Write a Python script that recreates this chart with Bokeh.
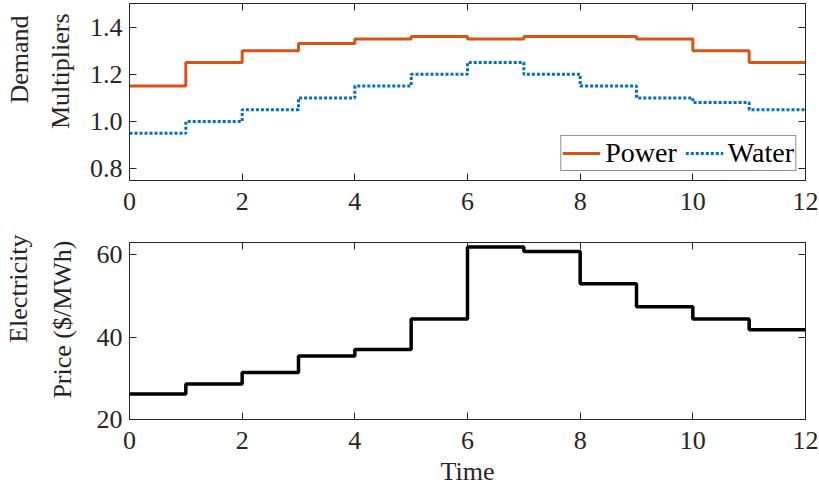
from bokeh.plotting import figure
from bokeh.layouts import column
from bokeh.models import (ColumnDataSource, LinearAxis, FixedTicker, Range1d,
                          Legend, LegendItem, PrintfTickFormatter, Title)
from bokeh.embed import file_html
from bokeh.resources import INLINE

# ---- data ----
time_steps = list(range(13))
power = [1.15, 1.25, 1.30, 1.33, 1.35, 1.36, 1.35, 1.36, 1.36, 1.35, 1.30, 1.25]
water = [0.95, 1.00, 1.05, 1.10, 1.15, 1.20, 1.25, 1.20, 1.15, 1.10, 1.08, 1.05]
price = [26.2, 28.6, 31.4, 35.4, 37.0, 44.4, 61.9, 60.8, 53.0, 47.4, 44.4, 41.8]
x_ticks = [0, 2, 4, 6, 8, 10, 12]
top_y_ticks = [0.8, 1.0, 1.2, 1.4]
bottom_y_ticks = [20, 40, 60]
top_y_range = (0.75, 1.5)
bottom_y_range = (20, 63)
top_ylabel = ["Demand", "Multipliers"]
bottom_ylabel = ["Electricity", "Price ($/MWh)"]
xlabel = "Time"

FONT = "Liberation Serif"
TXT = "#262626"
TICK_FS = "26px"
LBL_FS = "26px"
LEG_FS = "28px"

src = ColumnDataSource(dict(
    t=time_steps,
    power=power + [power[-1]],
    water=water + [water[-1]],
    price=price + [price[-1]],
))


def style_axis(ax, ticks, show_labels=True, fmt=None):
    ax.ticker = FixedTicker(ticks=ticks)
    ax.minor_tick_line_color = None
    ax.major_tick_in = 7
    ax.major_tick_out = 0
    ax.major_tick_line_color = TXT
    ax.axis_line_color = TXT
    ax.axis_line_width = 1
    ax.major_label_text_font = FONT
    ax.axis_label_text_font = FONT
    ax.axis_label_text_font_style = "normal"
    ax.axis_label_text_color = TXT
    ax.axis_label_text_font_size = LBL_FS
    if fmt is not None:
        ax.formatter = fmt
    if show_labels:
        ax.major_label_text_font_size = TICK_FS
        ax.major_label_text_color = TXT
    else:
        ax.major_label_text_font_size = "1px"
        ax.major_label_text_color = None
        ax.major_label_standoff = 0


def make_fig(yr, yticks, top_b, bottom_b, yfmt=None):
    p = figure(frame_width=676, frame_height=177,
               x_range=Range1d(0, 12), y_range=Range1d(*yr),
               output_backend="svg", toolbar_location=None,
               min_border_left=129, min_border_right=14,
               min_border_top=top_b, min_border_bottom=bottom_b)
    p.grid.visible = False
    p.outline_line_color = TXT
    p.outline_line_width = 1
    p.background_fill_color = "white"
    p.border_fill_color = "white"
    xb = p.below[0]
    yl = p.left[0]
    style_axis(xb, x_ticks)
    style_axis(yl, yticks, fmt=yfmt)
    xb.major_label_standoff = 12
    yl.major_label_standoff = 7
    ax_top = LinearAxis()
    style_axis(ax_top, x_ticks, show_labels=False)
    p.add_layout(ax_top, "above")
    ax_right = LinearAxis()
    style_axis(ax_right, yticks, show_labels=False)
    p.add_layout(ax_right, "right")
    return p, xb, yl


def add_ylabel(p, lines, offsets, standoffs):
    # inner line first (closest to the axis), then the outer line
    for txt, off, so in zip(reversed(lines), reversed(offsets), reversed(standoffs)):
        p.add_layout(Title(text=txt, align="right", offset=off,
                           text_font=FONT, text_font_size=LBL_FS,
                           text_font_style="normal", text_color=TXT,
                           standoff=so), "left")


# ---- top panel ----
p1, xb1, yl1 = make_fig(top_y_range, top_y_ticks, 3, 40, PrintfTickFormatter(format="%.1f"))
r_pow = p1.step(x="t", y="power", source=src, mode="after",
                line_color="#D95319", line_width=3)
r_wat = p1.step(x="t", y="water", source=src, mode="after",
                line_color="#0072BD", line_width=3, line_dash="3 2")
add_ylabel(p1, top_ylabel, [12, 10], [-4, 24])

leg = Legend(items=[LegendItem(label="Power", renderers=[r_pow]),
                    LegendItem(label="Water", renderers=[r_wat])],
             location="bottom_right", orientation="horizontal")
leg.margin = 9
leg.padding = 1
leg.spacing = 8
leg.glyph_width = 38
leg.glyph_height = 20
leg.label_standoff = 5
leg.label_text_font = FONT
leg.label_text_font_size = LEG_FS
leg.label_text_color = "black"
leg.border_line_color = TXT
leg.border_line_width = 1
leg.background_fill_color = "white"
leg.background_fill_alpha = 1
p1.add_layout(leg)

# ---- bottom panel ----
p2, xb2, yl2 = make_fig(bottom_y_range, bottom_y_ticks, 22, 68)
p2.step(x="t", y="price", source=src, mode="after",
        line_color="black", line_width=3.5)
add_ylabel(p2, bottom_ylabel, [-8, -2], [-8, 34])
xb2.axis_label = xlabel
xb2.axis_label_standoff = 5

layout = column(p1, p2, spacing=0)
open("out.html", "w").write(file_html(layout, INLINE))
